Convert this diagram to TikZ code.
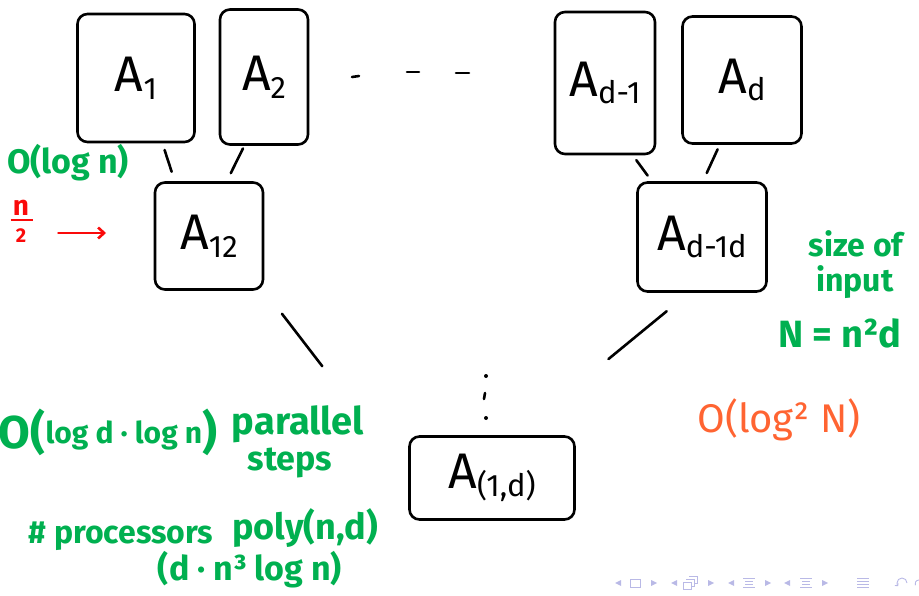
\documentclass[tikz,border=0pt]{standalone}
\usepackage{fontspec}
\setmainfont{Fira Sans}
\usetikzlibrary{arrows.meta}
\definecolor{inkgreen}{RGB}{0,176,80}
\definecolor{inkred}{RGB}{250,10,10}
\definecolor{inkorange}{RGB}{255,100,50}
\definecolor{navblue}{RGB}{185,185,230}
% lowered, shrunk index for the block names
\newcommand\lowidx[1]{\raisebox{-0.3ex}{\scalebox{0.62}{#1}}}
\begin{document}
\begin{tikzpicture}[x=1pt,y=-1pt,
  box/.style={draw,line width=2.6pt,rounded corners=10pt,inner sep=0pt,
    font=\fontsize{50}{50}\selectfont},
  link/.style={line width=2.6pt,line cap=round},
  note/.style={text=inkgreen,inner sep=0pt,font=\bfseries\fontsize{#1}{#1}\selectfont},
  redarrow/.style={draw=inkred,line width=2.6pt,line cap=round,
    -{Straight Barb[length=6pt,width=11pt]}},
  nav/.style={navblue,line width=0.9pt}]
\useasboundingbox (0,0) rectangle (919,596);

% leaf blocks
\node[box,minimum width=117pt,minimum height=128pt] (A1) at (136,78) {A\lowidx{1}};
\node[box,minimum width=88pt,minimum height=135pt] (A2) at (264,77) {A\lowidx{2}};
\node[box,minimum width=100pt,minimum height=142pt] (Adm) at (605,83) {A\lowidx{d-1}};
\node[box,minimum width=119pt,minimum height=127pt] (Ad) at (742,80) {A\lowidx{d}};

% first merge level
\node[box,minimum width=108pt,minimum height=107pt] (A12) at (209,236) {A\lowidx{12}};
\node[box,minimum width=129pt,minimum height=109pt] (Admd) at (702,237) {A\lowidx{d-1d}};

% root
\node[box,minimum width=165pt,minimum height=83pt] (Aroot) at (492,478) {A\lowidx{(1,d)}};

% tree edges
\draw[link,shorten <=7pt,shorten >=10pt] (A1.-68) -- (A12.122);
\draw[link,shorten <=3pt,shorten >=9pt] (A2.-106) -- (A12.72);
\draw[link,shorten <=6pt,shorten >=7pt] (Adm.-69) -- (Admd.132);
\draw[link,shorten <=5pt,shorten >=9pt] (Ad.-109) -- (Admd.89);
\draw[link,shorten <=29pt,shorten >=141pt] (A12.south east) -- (Aroot.west);
\draw[link,shorten <=29pt,shorten >=120pt] (Admd.-103) -- (Aroot.61);

% elided blocks
\draw[link] (352,77) -- (359,76);
\draw[link] (407,72) -- (419,72);
\draw[link] (456,73) -- (469,73);
\fill (486,376) circle (2pt);
\draw[link] (485,393) -- (484,399);
\fill (486,418) circle (2pt);

% annotations
\node[note=34] (tleaf) at (68,163) {O(log n)};
\node[text=inkred,inner sep=0pt,font=\bfseries\fontsize{28}{28}\selectfont]
  (halfn) at (21,208) {n};
\node[text=inkred,inner sep=0pt,font=\bfseries\fontsize{20}{20}\selectfont]
  (halfd) at (21,236) {2};
\draw[inkred,line width=2.4pt] (halfn.south west) ++(-2,4) -- ++(22,0);
\coordinate (halftip) at (106,233);
\draw[redarrow,shorten <=32pt] (halfd.east |- halftip) -- (halftip);

\node[note=32] (size) at (856,244) {size of};
\node[note=32] (input) at (855,282) {input};
\node[note=38] (bigN) at (840,333) {N = n²d};
\node[text=inkorange,inner sep=0pt,font=\fontsize{40}{40}\selectfont] (total) at (779,420)
  {O(log² N)};

\node[note=30] (steps) at (108,432)
  {{\fontsize{46}{46}\selectfont O(}\raisebox{0.3ex}{log d · log n}{\fontsize{46}{46}\selectfont )}};
\node[note=38] (par) at (298,424) {parallel};
\node[note=34] (stp) at (290,463) {steps};
\node[note=32] (procs) at (121,536) {\# processors};
\node[note=36] (poly) at (305,528) {poly(n,d)};
\node[note=34] (polyx) at (250,570) {(d · n³ log n)};

% navigation symbols
\begin{scope}[nav]
  \fill (621,580) -- (615,583) -- (621,586) -- cycle;
  \draw (630,579) rectangle (640,587);
  \fill (651,580) -- (657,583) -- (651,586) -- cycle;
  \fill (677,580) -- (671,583) -- (677,586) -- cycle;
  \draw (683,582) rectangle (691,589);
  \draw (686,580) -- (686,579) -- (694,579) -- (694,586) -- (691,586);
  \draw (689,577) -- (689,576) -- (697,576) -- (697,583) -- (694,583);
  \fill (708,580) -- (714,583) -- (708,586) -- cycle;
  \fill (734,580) -- (728,583) -- (734,586) -- cycle;
  \draw (743,578) -- (755,578) (745,581) -- (753,581) (745,584) -- (753,584) (743,587) -- (755,587);
  \fill (765,580) -- (771,583) -- (765,586) -- cycle;
  \fill (790,580) -- (784,583) -- (790,586) -- cycle;
  \draw (800,578) -- (812,578) (802,581) -- (810,581) (802,584) -- (810,584) (800,587) -- (812,587);
  \fill (822,580) -- (828,583) -- (822,586) -- cycle;
  \draw (857,578) -- (869,578) (857,581) -- (869,581) (857,584) -- (869,584) (857,587) -- (869,587);
  \draw[-{Straight Barb[length=2pt,width=4pt]}] (907,583) arc[start angle=0,end angle=220,radius=5pt];
  \draw (919,580) arc[start angle=90,end angle=200,radius=4pt];
\end{scope}
\end{tikzpicture}
\end{document}
